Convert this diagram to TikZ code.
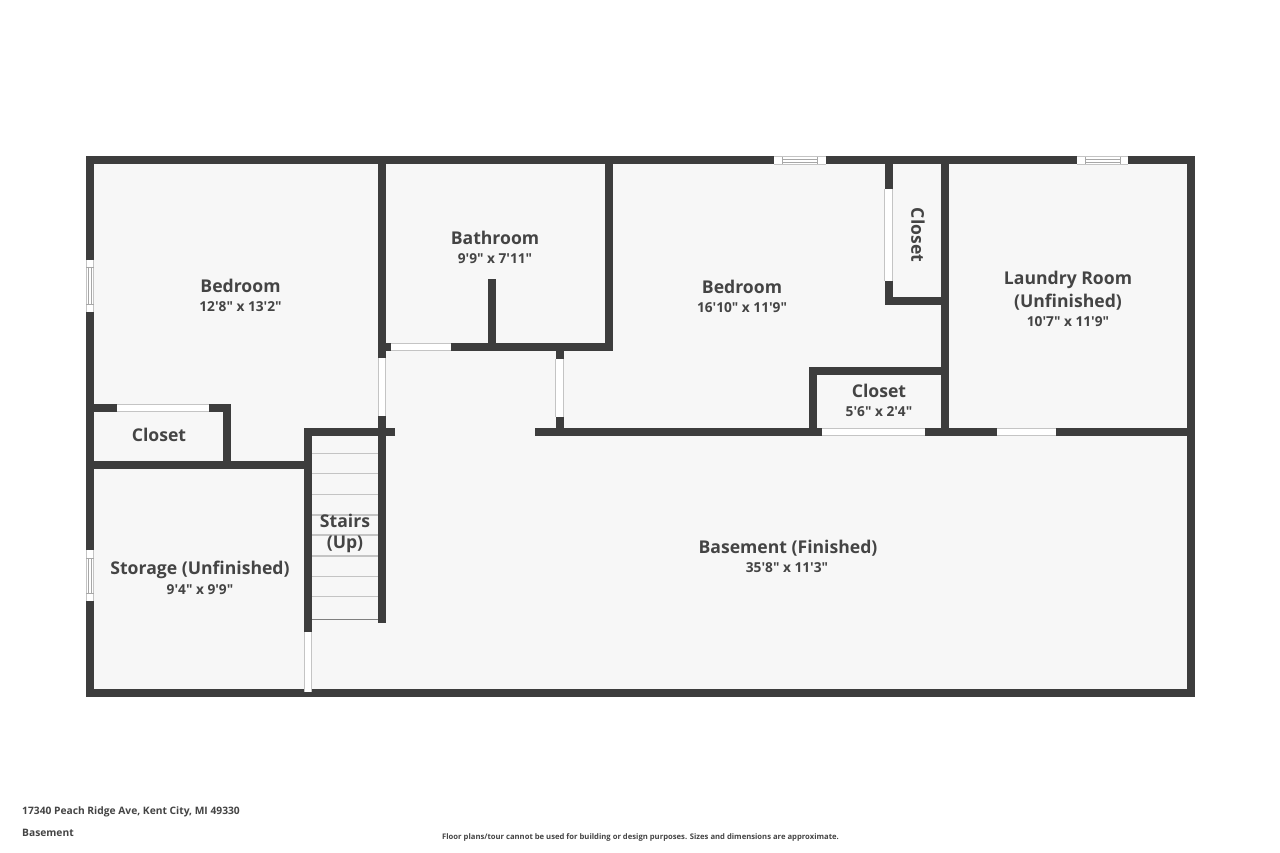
\documentclass[tikz,border=0pt]{standalone}
\usepackage{fontspec}
\usepackage{xcolor}
\newfontfamily\planfont{Open Sans}
\definecolor{wallgray}{HTML}{3D3D3D}
\definecolor{textgray}{HTML}{444444}
\definecolor{floorgray}{HTML}{F7F7F7}
\definecolor{edgegray}{HTML}{C4C4C4}
\tikzset{
	wall/.style={draw=wallgray,line width=8pt,line join=miter},
	door/.style={draw=edgegray,line width=0.8pt,double=white,double distance=6.6pt},
	pane/.style={draw=edgegray!85!black,line width=0.8pt},
	tread/.style={draw=edgegray,line width=1.2pt},
	room/.style={text=textgray,font=\planfont\bfseries\fontsize{17.6}{20}\selectfont,inner sep=0pt},
	size/.style={text=textgray,font=\planfont\bfseries\fontsize{13.7}{16}\selectfont,inner sep=0pt},
	foot/.style={text=textgray,font=\planfont\bfseries\fontsize{10.25}{12}\selectfont,inner sep=0pt,anchor=west},
}

\begin{document}
\begin{tikzpicture}[x=1pt,y=-1pt]
	\useasboundingbox (0,0) rectangle (1280,853);
	\fill [white] (0,0) rectangle (1280,853);
	\fill [floorgray] (90,160) rectangle (1191,693);
	% stairs
	\foreach \y in {453.3,473.7,494.3,515,535,556,576.3,596.7}
		\draw [tread] (312,\y) -- (379,\y);
	\draw [draw=gray,line width=1pt] (312,619.5) -- (379,619.5);
	% outer walls
	\draw [wall] (90,160.3) rectangle (1191,693);
	% bedroom and bathroom
	\draw [wall] (382,160) -- (382,358);
	\draw [wall] (382,416) -- (382,623);
	\draw [wall] (382,347) -- (391,347);
	\draw [wall] (451,347) -- (609,347) -- (609,160);
	\draw [wall] (491.5,279) -- (491.5,347);
	% hall
	\draw [wall] (559.5,347) -- (559.5,359);
	\draw [wall] (559.5,417) -- (559.5,432);
	\draw [wall] (535,432) -- (822,432);
	\draw [wall] (925,432) -- (997,432);
	\draw [wall] (1056,432) -- (1191,432);
	% left closet
	\draw [wall] (90,408) -- (117,408);
	\draw [wall] (209,408) -- (227,408) -- (227,465);
	\draw [wall] (90,465) -- (308,465);
	% stairs walls
	\draw [wall] (395,432) -- (308,432) -- (308,632);
	% right closets
	\draw [wall] (888.5,160) -- (888.5,189);
	\draw [wall] (888.5,281) -- (888.5,300.5) -- (945,300.5);
	\draw [wall] (945,160) -- (945,432);
	\draw [wall] (945,370.5) -- (813,370.5) -- (813,432);
	% doors
	\draw [door] (391,347) -- (451,347);
	\draw [door] (382,358) -- (382,416);
	\draw [door] (559.5,359) -- (559.5,417);
	\draw [door] (117,408) -- (209,408);
	\draw [door] (308,632) -- (308,692);
	\draw [door] (888.5,189) -- (888.5,281);
	\draw [door] (822,432) -- (925,432);
	\draw [door] (997,432) -- (1056,432);
	% windows
	\draw [door] (90,260) -- (90,312);
	\draw [pane] (86,267) -- (94,267) (86,304) -- (94,304) (88.5,267) -- (88.5,304) (91.5,267) -- (91.5,304);
	\draw [door] (90,550) -- (90,601);
	\draw [pane] (86,558) -- (94,558) (86,593) -- (94,593) (88.5,558) -- (88.5,593) (91.5,558) -- (91.5,593);
	\draw [door] (774,160.5) -- (826,160.5);
	\draw [pane] (782,157) -- (782,164) (817,157) -- (817,164) (782,159) -- (817,159) (782,162) -- (817,162);
	\draw [door] (1077,160.5) -- (1128,160.5);
	\draw [pane] (1085,157) -- (1085,164) (1120,157) -- (1120,164) (1085,159) -- (1120,159) (1085,162) -- (1120,162);
	% labels
	\node [room] (bedroomwest) at (240.5,285.7) {Bedroom};
	\node [size] (bedroomwestsize) at (240.5,306.7) {12'8" x 13'2"};
	\node [room] (bathroom) at (495,237.7) {Bathroom};
	\node [size] (bathroomsize) at (495,258.7) {9'9" x 7'11"};
	\node [room] (bedroomeast) at (742,286.7) {Bedroom};
	\node [size] (bedroomeastsize) at (742,307.7) {16'10" x 11'9"};
	\node [room,rotate=-90] (closetnorth) at (918,235) {Closet};
	\node [room] (laundry) at (1068,279.7) {Laundry Room};
	\node [room] (laundrynote) at (1068,301.7) {(Unfinished)};
	\node [size] (laundrysize) at (1068,321.7) {10'7" x 11'9"};
	\node [room] (closeteast) at (879,390.7) {Closet};
	\node [size] (closeteastsize) at (879,411.7) {5'6" x 2'4"};
	\node [room] (closetwest) at (159,434.7) {Closet};
	\node [room] (stairs) at (345,520.7) {Stairs};
	\node [room] (stairsnote) at (345,544.7) {(Up)};
	\node [room] (storage) at (200,569.7) {Storage (Unfinished)};
	\node [size] (storagesize) at (200,589.7) {9'4" x 9'9"};
	\node [room] (basement) at (788,548.3) {Basement (Finished)};
	\node [size] (basementsize) at (787,567.7) {35'8" x 11'3"};
	\node [foot] (address) at (22,812) {17340 Peach Ridge Ave, Kent City, MI 49330};
	\node [foot] (level) at (22,832.7) {Basement};
	\node [foot,font=\planfont\bfseries\fontsize{7.67}{10}\selectfont,anchor=center] (disclaimer) at (640.5,837) {Floor plans/tour cannot be used for building or design purposes. Sizes and dimensions are approximate.};
\end{tikzpicture}
\end{document}
